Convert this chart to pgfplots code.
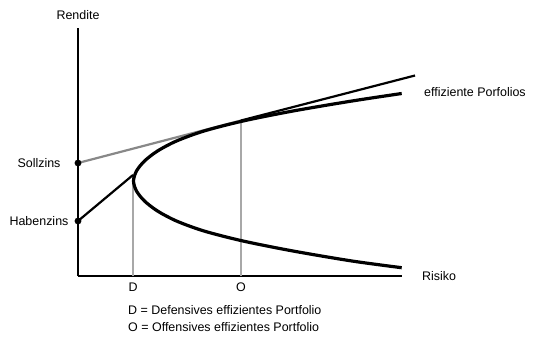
\documentclass[border=0pt]{standalone}
\usepackage{pgfplots}
\pgfplotsset{compat=1.18}
\usepackage{fontspec}
\setmainfont{Liberation Sans}
\definecolor{lgray}{HTML}{A8A8A8}
\definecolor{mgray}{HTML}{888888}
\begin{document}
\begin{tikzpicture}
\begin{axis}[
 x=1bp, y=1bp,
 xmin=0, xmax=324, ymin=0, ymax=248,
 axis x line=bottom, axis y line=left,
 axis line style={-, line width=2.2bp, black},
 xtick=\empty, ytick=\empty,
 clip=false,
 font=\fontsize{12.5}{14}\selectfont,
]
\path (axis cs:-78,-72) rectangle (axis cs:457,276);
\addplot[lgray, line width=1.6bp] coordinates {(55,0) (55,101)};
\addplot[lgray, line width=1.6bp] coordinates {(163,0) (163,155)};
\addplot[mgray, line width=2.2bp] coordinates {(0,113) (163,155.5)};
\addplot[black, line width=2.2bp] coordinates {(163,155.5) (337,200.5)};
\addplot[black, line width=2.2bp] coordinates {(0,55) (55,101)};
\addplot[black, line width=3.2bp, smooth] coordinates {
 (323.7,8.3) (274,15) (215,25) (165,35) (126,45) (98.5,55) (79.5,65) (66.5,75) (58.5,85) (55.5,95)
 (58.5,105) (66.5,115) (79.5,125) (98.5,135) (126,145) (165,155) (215,165) (274,175) (323.7,182.5)};
\addplot[only marks, mark=*, mark size=3.2bp, black] coordinates {(0,113) (0,55)};
\node at (axis cs:0,261) {Rendite};
\node at (axis cs:-39,113) {Sollzins};
\node at (axis cs:-39,55) {Habenzins};
\node at (axis cs:55,-11) {D};
\node at (axis cs:163,-11) {O};
\node[anchor=west, inner sep=0pt] at (axis cs:344,0) {Risiko};
\node[anchor=west, inner sep=0pt] at (axis cs:346,184) {effiziente Porfolios};
\node[anchor=west, inner sep=0pt] at (axis cs:50,-34) {D = Defensives effizientes Portfolio};
\node[anchor=west, inner sep=0pt] at (axis cs:50,-51) {O = Offensives effizientes Portfolio};
\end{axis}
\end{tikzpicture}
\end{document}
